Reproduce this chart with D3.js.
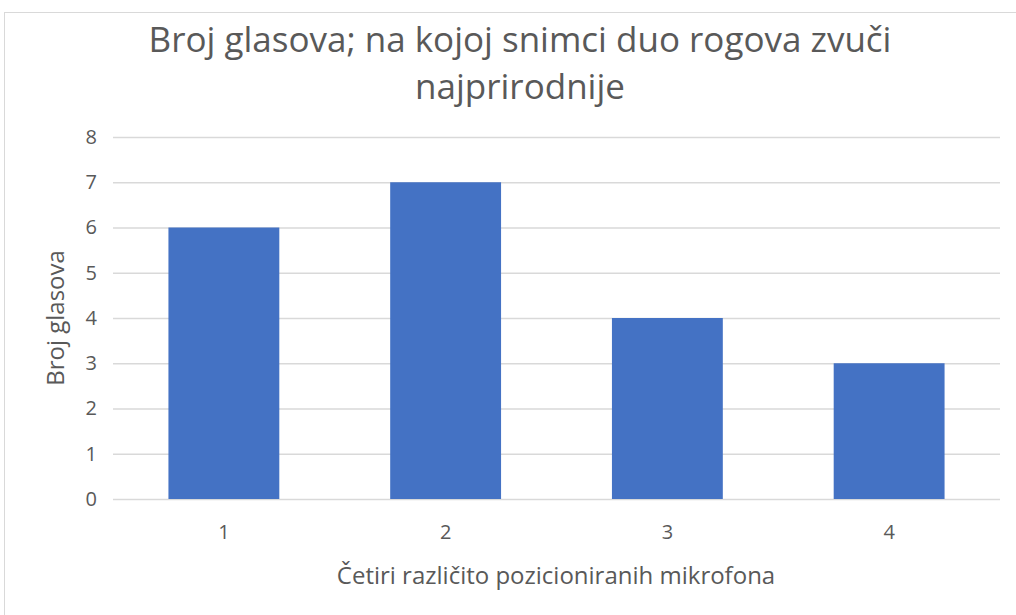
<!DOCTYPE html>
<html><head><meta charset="utf-8">
<script src="https://cdn.jsdelivr.net/npm/d3@7"></script>
<style>body{margin:0;background:#fff}svg{display:block}text{font-family:"Open Sans",sans-serif}</style>
</head><body><svg id="c" width="1016" height="615"></svg>
<script>
const categories = ["1","2","3","4"];
const values = [6,7,4,3];
const yTicks = [0,1,2,3,4,5,6,7,8];
const titleLines = ["Broj glasova; na kojoj snimci duo rogova zvuči","najprirodnije"];
const xTitle = "Četiri različito pozicioniranih mikrofona";
const yTitle = "Broj glasova";

const svg = d3.select("#c");
const m = {l:113, r:1000, t:137, b:499};
svg.append("rect").attr("x",4.5).attr("y",12.5).attr("width",1100).attr("height",700)
  .attr("fill","#fff").attr("stroke","#d9d9d9");

const x = d3.scaleBand().domain(categories).range([m.l,m.r]).paddingInner(0.5).paddingOuter(0.25);
const y = d3.scaleLinear().domain([0,8]).range([m.b,m.t]);

const ya = svg.append("g").attr("transform",`translate(${m.l},0)`)
  .call(d3.axisLeft(y).tickValues(yTicks).tickSize(-(m.r-m.l)).tickPadding(16));
ya.select(".domain").remove();
ya.selectAll(".tick line").attr("stroke","#d9d9d9").attr("stroke-width",1.3);
ya.selectAll(".tick text").attr("fill","#595959").attr("font-size",20);

svg.selectAll(".bar").data(values).join("rect").attr("class","bar")
  .attr("x",(d,i)=>x(categories[i])).attr("width",x.bandwidth())
  .attr("y",d=>y(d)).attr("height",d=>y(0)-y(d)).attr("fill","#4472c4");

const xa = svg.append("g").attr("transform",`translate(0,${m.b})`)
  .call(d3.axisBottom(x).tickSize(0).tickPadding(26));
xa.select(".domain").remove();
xa.selectAll(".tick text").attr("fill","#595959").attr("font-size",20);

svg.append("text").attr("x",556).attr("y",584).attr("text-anchor","middle")
  .attr("fill","#595959").attr("font-size",24).text(xTitle);
svg.append("text").attr("transform",`translate(64,${(m.t+m.b)/2}) rotate(-90)`)
  .attr("text-anchor","middle").attr("fill","#595959").attr("font-size",24).text(yTitle);
svg.selectAll(".title").data(titleLines).join("text").attr("class","title")
  .attr("x",520).attr("y",(d,i)=>52+i*47).attr("text-anchor","middle")
  .attr("fill","#595959").attr("font-size",35).text(d=>d);
</script></body></html>
